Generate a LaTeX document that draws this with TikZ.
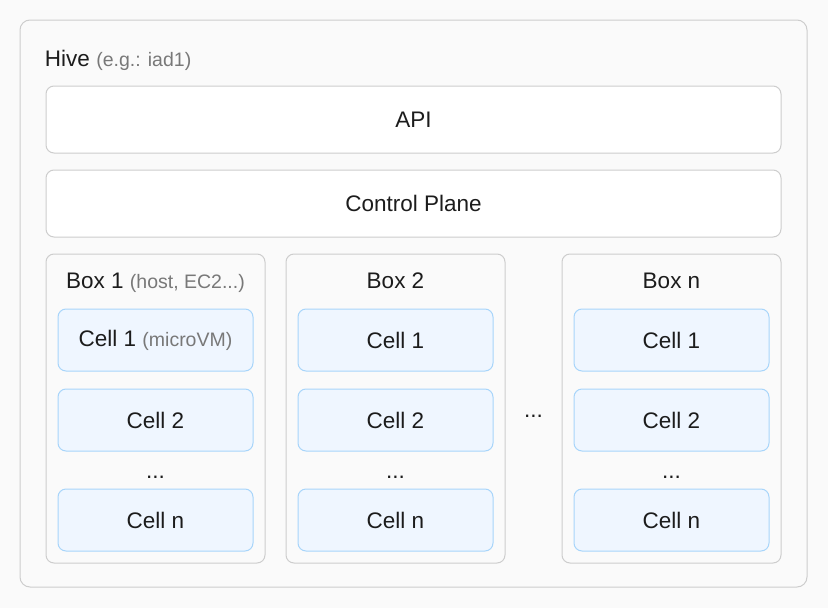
\documentclass[tikz,border=0pt]{standalone}
\usepackage{fontspec}
\setmainfont{Liberation Sans}
\usepackage{tikz}
\usetikzlibrary{positioning, calc, backgrounds}
\definecolor{pagegray}{HTML}{FAFAFA}
\definecolor{linegray}{HTML}{CDCDCD}
\definecolor{cellblue}{HTML}{EFF6FF}
\definecolor{cellline}{HTML}{A8D5FA}
\definecolor{notegray}{HTML}{787878}
\definecolor{inkdark}{HTML}{1C1C1C}
\newcommand{\maintxt}{\fontsize{22.5}{27}\selectfont}
\newcommand{\note}[1]{{\color{notegray}\fontsize{19.5}{23}\selectfont #1}}
\tikzstyle{hive}=[%
      rectangle, rounded corners=10pt, draw=linegray, fill=pagegray,
      minimum width=787pt, minimum height=567pt, inner sep=0pt, outer sep=0pt
]
\tikzstyle{layer}=[%
      rectangle, rounded corners=8pt, draw=linegray, fill=white, text=inkdark,
      minimum width=735pt, minimum height=67pt, inner sep=0pt, outer sep=0pt, font=\maintxt
]
\tikzstyle{hostbox}=[%
      rectangle, rounded corners=8pt, draw=linegray, fill=pagegray,
      minimum width=219pt, minimum height=309pt, inner sep=0pt, outer sep=0pt
]
\tikzstyle{cell}=[%
      rectangle, rounded corners=8pt, draw=cellline, fill=cellblue, text=inkdark,
      minimum width=195pt, minimum height=62pt, inner sep=0pt, outer sep=0pt, font=\maintxt
]
\tikzstyle{lbl}=[%
      text=inkdark, inner sep=0pt, outer sep=0pt, font=\maintxt
]

\begin{document}
\begin{tikzpicture}[line width=1pt]
    \fill[pagegray] (0pt,0pt) rectangle (828pt,-608pt);
    \useasboundingbox (0pt,0pt) rectangle (828pt,-608pt);

    \node[hive]    (hive)  at (413.5pt,-303.5pt) {};
    \node[lbl, anchor=base west] (title) at (45pt,-66pt) {Hive \note{(e.g.: iad1)}};

    \node[layer]   (api)   at (413.5pt,-119.5pt)  {API};
    \node[layer]   (ctrl)  [below = 17pt of api]  {Control Plane};

    % hosts
    \node[hostbox] (box1)  [below = 17pt of ctrl.south west, anchor=north west] {};
    \node[hostbox] (box2)  [right = 21pt of box1] {};
    \node[hostbox] (boxn)  [right = 57pt of box2] {};

    \node[lbl, anchor=base] (box1lbl) at ([yshift=-34pt]box1.north) {Box 1 \note{(host, EC2...)}};
    \node[lbl, anchor=base] (box2lbl) at ([yshift=-34pt]box2.north) {Box 2};
    \node[lbl, anchor=base] (boxnlbl) at ([yshift=-34pt]boxn.north) {Box n};

    % cells
    \node[cell] (c11) [below = 55pt of box1.north, anchor=north] {Cell 1 \note{(microVM)}};
    \node[cell] (c12) [below = 18pt of c11] {Cell 2};
    \node[cell] (c1n) [below = 38pt of c12] {Cell n};

    \node[cell] (c21) [below = 55pt of box2.north, anchor=north] {Cell 1};
    \node[cell] (c22) [below = 18pt of c21] {Cell 2};
    \node[cell] (c2n) [below = 38pt of c22] {Cell n};

    \node[cell] (cn1) [below = 55pt of boxn.north, anchor=north] {Cell 1};
    \node[cell] (cn2) [below = 18pt of cn1] {Cell 2};
    \node[cell] (cnn) [below = 38pt of cn2] {Cell n};

    \node[lbl, anchor=base] (dots1) at ($(c12.south)!0.5!(c1n.north)+(0,-8pt)$) {...};
    \node[lbl, anchor=base] (dots2) at ($(c22.south)!0.5!(c2n.north)+(0,-8pt)$) {...};
    \node[lbl, anchor=base] (dotsn) at ($(cn2.south)!0.5!(cnn.north)+(0,-8pt)$) {...};
    \node[lbl, anchor=base] (dotsm) at ($(c22.east)!0.5!(cn2.west)+(0,3pt)$)    {...};

\end{tikzpicture}
\end{document}
